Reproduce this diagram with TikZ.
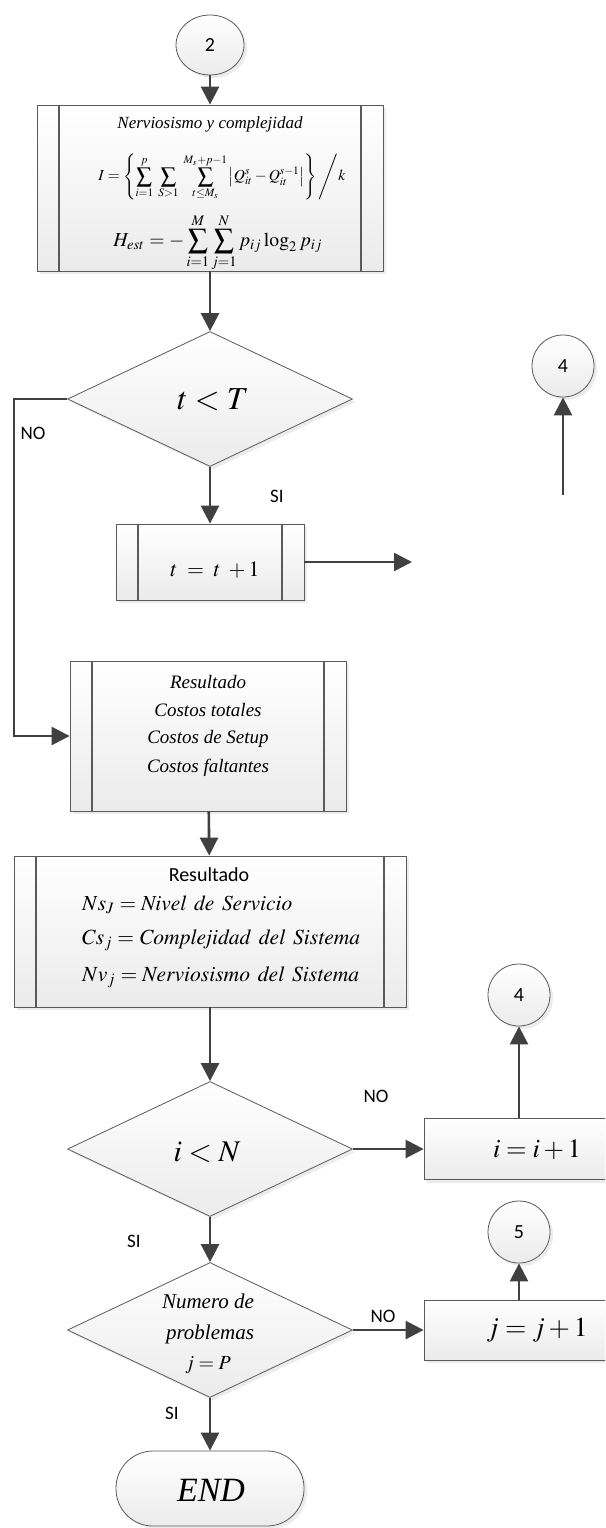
\documentclass[tikz,border=0pt]{standalone}
\usepackage{mathptmx}
\usepackage{fontspec}
\setmainfont{Liberation Serif}
\setsansfont{Carlito}
\usepackage{graphicx}
\usetikzlibrary{arrows.meta,shapes.geometric,shadows}

\definecolor{linec}{HTML}{404040}
\definecolor{edgec}{HTML}{5A5A5A}
\definecolor{fillbot}{HTML}{EBEBEB}

\tikzset{
  shapebase/.style={draw=edgec, line width=0.8pt, top color=white, bottom color=fillbot,
    drop shadow={shadow xshift=3pt, shadow yshift=-3pt, fill=black!15}},
  plainbox/.style={shapebase, rectangle, inner sep=0pt},
  procbox/.style={plainbox,
    path picture={\draw[edgec, line width=1.6pt]
      ([xshift=22pt]path picture bounding box.north west) -- ([xshift=22pt]path picture bounding box.south west)
      ([xshift=-22pt]path picture bounding box.north east) -- ([xshift=-22pt]path picture bounding box.south east);}},
  decision/.style={shapebase, diamond, inner sep=0pt, minimum width=285pt, minimum height=135pt},
  onpage/.style={shapebase, circle, inner sep=0pt, minimum size=62pt, font=\sffamily\fontsize{20}{22}\selectfont},
  terminal/.style={shapebase, rectangle, rounded corners=37pt, inner sep=0pt},
  flow/.style={draw=linec, line width=2.6pt, -{Triangle[length=18pt,width=18pt]}},
  tag/.style={font=\sffamily\fontsize{19}{22}\selectfont, inner sep=0pt},
  txt/.style={inner sep=0pt},
}

\begin{document}
\begin{tikzpicture}[x=1pt, y=-1pt]
\useasboundingbox (0,0) rectangle (605,1528);
\clip (0,0) rectangle (605,1528);

% entry connector and measures box
\node[onpage, ellipse, minimum width=68pt, minimum height=60pt] (c2) at (210,45) {2};
\node[procbox, minimum width=346pt, minimum height=166pt] (b1) at (210,188) {};
\node[txt, font=\itshape\fontsize{17}{20}\selectfont] (b1title) at (210,124) {Nerviosismo y complejidad};
\node[txt] (b1I) at (222,177) {\resizebox{247pt}{!}{$\displaystyle I=\left\{\sum_{i=1}^{p}\;\sum_{S>1}\;\sum_{t\le M_s}^{M_s+p-1}\left|Q_{it}^{s}-Q_{it}^{s-1}\right|\right\}\Bigg/ k$}};
\node[txt] (b1H) at (218,243) {\resizebox{209pt}{!}{$\displaystyle H_{est}=-\sum_{i=1}^{M}\sum_{j=1}^{N}p_{ij}\log_2 p_{ij}$}};

% period loop
\node[decision] (d1) at (210,399) {};
\node[txt, font=\fontsize{32}{36}\selectfont] (d1txt) at (213,400) {$t<T$};
\node[procbox, minimum width=188pt, minimum height=76pt] (bt) at (210,562) {};
\node[txt] (bttxt) at (215,570) {\resizebox{89pt}{!}{$t\;=\;t\;+1$}};
\node[onpage] (c4a) at (563,366) {4};
\coordinate (tout) at (412,562);
\coordinate (c4tail) at (563,495);
\coordinate (nocorner) at (14,399);

% result boxes
\node[procbox, minimum width=276pt, minimum height=150pt] (b2) at (208,736) {};
\node[txt, font=\itshape\fontsize{19}{22}\selectfont] (b2l1) at (208,682) {Resultado};
\node[txt, font=\itshape\fontsize{19}{22}\selectfont] (b2l2) at (208,710) {Costos totales};
\node[txt, font=\itshape\fontsize{19}{22}\selectfont] (b2l3) at (208,739) {Costos de Setup};
\node[txt, font=\itshape\fontsize{19}{22}\selectfont] (b2l4) at (208,768) {Costos faltantes};

\node[procbox, minimum width=392pt, minimum height=151pt] (b3) at (210,931.5) {};
\node[txt, font=\sffamily\fontsize{20}{22}\selectfont] (b3l1) at (209,875) {Resultado};
\node[txt, anchor=west] (b3l2) at (82,905) {\resizebox{210pt}{!}{$Ns_{J}=\mathit{Nivel\ \,de\ \,Servicio}$}};
\node[txt, anchor=west] (b3l3) at (82,940) {\resizebox{278pt}{!}{$Cs_{j}=\mathit{Complejidad\ \,del\ \,Sistema}$}};
\node[txt, anchor=west] (b3l4) at (82,977) {\resizebox{277pt}{!}{$Nv_{j}=\mathit{Nerviosismo\ \,del\ \,Sistema}$}};

% instance loop
\node[decision] (d2) at (210,1149) {};
\node[txt, font=\fontsize{30}{34}\selectfont] (d2txt) at (207,1152) {$i<N$};
\node[plainbox, minimum width=226pt, minimum height=61pt] (bi) at (537,1149) {};
\node[txt] (bitxt) at (537,1150) {\resizebox{88pt}{!}{$i=i+1$}};
\node[onpage] (c4b) at (519,995) {4};

% problem loop
\node[decision] (d3) at (210,1330) {};
\node[txt, font=\itshape\fontsize{21}{22}\selectfont] (d3l1) at (208,1301) {Numero de};
\node[txt, font=\itshape\fontsize{21}{22}\selectfont] (d3l2) at (210,1334) {problemas};
\node[txt, font=\fontsize{20}{22}\selectfont] (d3l3) at (208,1365) {$j=P$};
\node[plainbox, minimum width=226pt, minimum height=60pt] (bj) at (537,1330) {};
\node[txt] (bjtxt) at (537,1330) {\resizebox{101pt}{!}{$j=j+1$}};
\node[onpage] (c5) at (519,1232) {5};

\node[terminal, minimum width=188pt, minimum height=75pt] (end) at (210,1488.5) {};
\node[txt, font=\itshape\fontsize{34}{38}\selectfont] (endtxt) at (211,1490) {END};

% connectors
\draw[flow] (c2) -- (b1);
\draw[flow] (b1) -- (d1);
\draw[flow] (d1) -- (bt);
\draw[flow] (bt) -- (tout);
\draw[flow] (c4tail) -- (c4a);
\draw[flow] (d1.west) -- (nocorner) |- (b2.west);
\draw[flow] (b2) -- (b3);
\draw[flow] (b3) -- (d2);
\draw[flow] (d2) -- (bi);
\draw[flow] (c4b |- bi.north) -- (c4b);
\draw[flow] (d2) -- (d3);
\draw[flow] (d3) -- (bj);
\draw[flow] (c5 |- bj.north) -- (c5);
\draw[flow] (d3) -- (end);

% branch labels
\node[tag] (no1) at (33,433) {NO};
\node[tag] (si1) at (277,496) {SI};
\node[tag] (no2) at (376,1096) {NO};
\node[tag] (si2) at (134,1241) {SI};
\node[tag] (no3) at (383,1316) {NO};
\node[tag] (si3) at (172,1413) {SI};
\end{tikzpicture}
\end{document}
